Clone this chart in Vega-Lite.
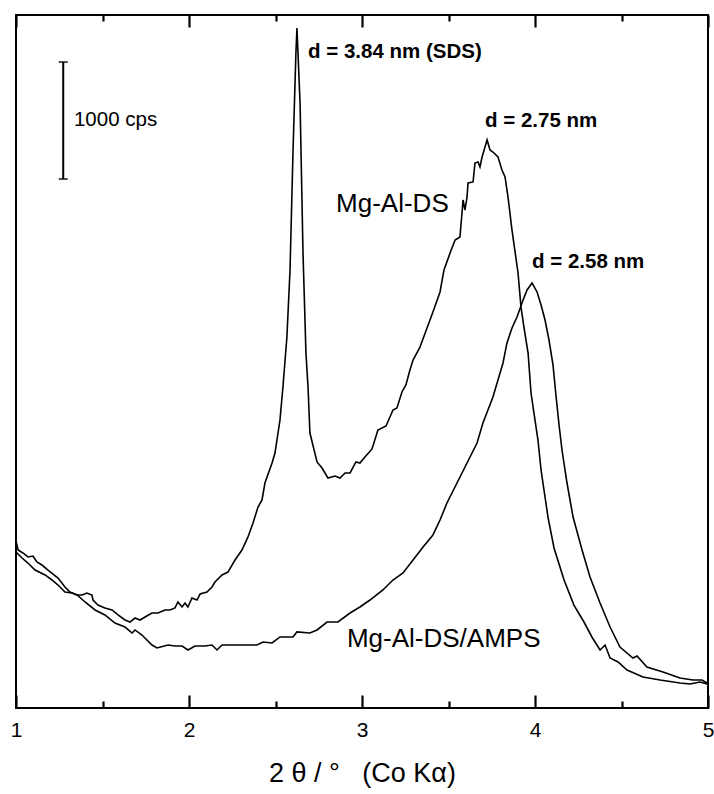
{
  "$schema": "https://vega.github.io/schema/vega-lite/v6.json",
  "width": 692,
  "height": 693,
  "autosize": "none",
  "padding": {"left": 16, "top": 15, "right": 6, "bottom": 86},
  "background": "white",
  "config": {
    "view": {"stroke": "black", "strokeWidth": 2},
    "font": "Liberation Sans"
  },
  "datasets": {
    "xrd": [
      {"sample": "Mg-Al-DS/AMPS", "two_theta": 1.000, "intensity": 1427},
      {"sample": "Mg-Al-DS/AMPS", "two_theta": 1.012, "intensity": 1350},
      {"sample": "Mg-Al-DS/AMPS", "two_theta": 1.040, "intensity": 1325},
      {"sample": "Mg-Al-DS/AMPS", "two_theta": 1.069, "intensity": 1291},
      {"sample": "Mg-Al-DS/AMPS", "two_theta": 1.098, "intensity": 1299},
      {"sample": "Mg-Al-DS/AMPS", "two_theta": 1.121, "intensity": 1248},
      {"sample": "Mg-Al-DS/AMPS", "two_theta": 1.150, "intensity": 1222},
      {"sample": "Mg-Al-DS/AMPS", "two_theta": 1.185, "intensity": 1179},
      {"sample": "Mg-Al-DS/AMPS", "two_theta": 1.243, "intensity": 1111},
      {"sample": "Mg-Al-DS/AMPS", "two_theta": 1.283, "intensity": 1034},
      {"sample": "Mg-Al-DS/AMPS", "two_theta": 1.312, "intensity": 991},
      {"sample": "Mg-Al-DS/AMPS", "two_theta": 1.353, "intensity": 966},
      {"sample": "Mg-Al-DS/AMPS", "two_theta": 1.399, "intensity": 906},
      {"sample": "Mg-Al-DS/AMPS", "two_theta": 1.457, "intensity": 838},
      {"sample": "Mg-Al-DS/AMPS", "two_theta": 1.514, "intensity": 795},
      {"sample": "Mg-Al-DS/AMPS", "two_theta": 1.572, "intensity": 726},
      {"sample": "Mg-Al-DS/AMPS", "two_theta": 1.630, "intensity": 692},
      {"sample": "Mg-Al-DS/AMPS", "two_theta": 1.671, "intensity": 641},
      {"sample": "Mg-Al-DS/AMPS", "two_theta": 1.688, "intensity": 667},
      {"sample": "Mg-Al-DS/AMPS", "two_theta": 1.728, "intensity": 624},
      {"sample": "Mg-Al-DS/AMPS", "two_theta": 1.786, "intensity": 538},
      {"sample": "Mg-Al-DS/AMPS", "two_theta": 1.815, "intensity": 513},
      {"sample": "Mg-Al-DS/AMPS", "two_theta": 1.879, "intensity": 538},
      {"sample": "Mg-Al-DS/AMPS", "two_theta": 1.919, "intensity": 530},
      {"sample": "Mg-Al-DS/AMPS", "two_theta": 1.960, "intensity": 530},
      {"sample": "Mg-Al-DS/AMPS", "two_theta": 1.994, "intensity": 496},
      {"sample": "Mg-Al-DS/AMPS", "two_theta": 2.035, "intensity": 530},
      {"sample": "Mg-Al-DS/AMPS", "two_theta": 2.092, "intensity": 530},
      {"sample": "Mg-Al-DS/AMPS", "two_theta": 2.133, "intensity": 538},
      {"sample": "Mg-Al-DS/AMPS", "two_theta": 2.162, "intensity": 496},
      {"sample": "Mg-Al-DS/AMPS", "two_theta": 2.191, "intensity": 538},
      {"sample": "Mg-Al-DS/AMPS", "two_theta": 2.266, "intensity": 538},
      {"sample": "Mg-Al-DS/AMPS", "two_theta": 2.324, "intensity": 538},
      {"sample": "Mg-Al-DS/AMPS", "two_theta": 2.393, "intensity": 538},
      {"sample": "Mg-Al-DS/AMPS", "two_theta": 2.428, "intensity": 564},
      {"sample": "Mg-Al-DS/AMPS", "two_theta": 2.480, "intensity": 556},
      {"sample": "Mg-Al-DS/AMPS", "two_theta": 2.526, "intensity": 607},
      {"sample": "Mg-Al-DS/AMPS", "two_theta": 2.601, "intensity": 607},
      {"sample": "Mg-Al-DS/AMPS", "two_theta": 2.624, "intensity": 650},
      {"sample": "Mg-Al-DS/AMPS", "two_theta": 2.699, "intensity": 641},
      {"sample": "Mg-Al-DS/AMPS", "two_theta": 2.740, "intensity": 667},
      {"sample": "Mg-Al-DS/AMPS", "two_theta": 2.798, "intensity": 735},
      {"sample": "Mg-Al-DS/AMPS", "two_theta": 2.861, "intensity": 735},
      {"sample": "Mg-Al-DS/AMPS", "two_theta": 2.931, "intensity": 812},
      {"sample": "Mg-Al-DS/AMPS", "two_theta": 2.988, "intensity": 863},
      {"sample": "Mg-Al-DS/AMPS", "two_theta": 3.046, "intensity": 923},
      {"sample": "Mg-Al-DS/AMPS", "two_theta": 3.121, "intensity": 1009},
      {"sample": "Mg-Al-DS/AMPS", "two_theta": 3.179, "intensity": 1094},
      {"sample": "Mg-Al-DS/AMPS", "two_theta": 3.237, "intensity": 1154},
      {"sample": "Mg-Al-DS/AMPS", "two_theta": 3.295, "intensity": 1265},
      {"sample": "Mg-Al-DS/AMPS", "two_theta": 3.353, "intensity": 1376},
      {"sample": "Mg-Al-DS/AMPS", "two_theta": 3.410, "intensity": 1479},
      {"sample": "Mg-Al-DS/AMPS", "two_theta": 3.451, "intensity": 1607},
      {"sample": "Mg-Al-DS/AMPS", "two_theta": 3.491, "intensity": 1752},
      {"sample": "Mg-Al-DS/AMPS", "two_theta": 3.549, "intensity": 1923},
      {"sample": "Mg-Al-DS/AMPS", "two_theta": 3.607, "intensity": 2094},
      {"sample": "Mg-Al-DS/AMPS", "two_theta": 3.665, "intensity": 2265},
      {"sample": "Mg-Al-DS/AMPS", "two_theta": 3.699, "intensity": 2436},
      {"sample": "Mg-Al-DS/AMPS", "two_theta": 3.757, "intensity": 2658},
      {"sample": "Mg-Al-DS/AMPS", "two_theta": 3.815, "intensity": 2949},
      {"sample": "Mg-Al-DS/AMPS", "two_theta": 3.838, "intensity": 3120},
      {"sample": "Mg-Al-DS/AMPS", "two_theta": 3.867, "intensity": 3248},
      {"sample": "Mg-Al-DS/AMPS", "two_theta": 3.896, "intensity": 3342},
      {"sample": "Mg-Al-DS/AMPS", "two_theta": 3.931, "intensity": 3487},
      {"sample": "Mg-Al-DS/AMPS", "two_theta": 3.954, "intensity": 3573},
      {"sample": "Mg-Al-DS/AMPS", "two_theta": 3.983, "intensity": 3632},
      {"sample": "Mg-Al-DS/AMPS", "two_theta": 4.012, "intensity": 3556},
      {"sample": "Mg-Al-DS/AMPS", "two_theta": 4.035, "intensity": 3444},
      {"sample": "Mg-Al-DS/AMPS", "two_theta": 4.058, "intensity": 3316},
      {"sample": "Mg-Al-DS/AMPS", "two_theta": 4.081, "intensity": 3145},
      {"sample": "Mg-Al-DS/AMPS", "two_theta": 4.104, "intensity": 2932},
      {"sample": "Mg-Al-DS/AMPS", "two_theta": 4.121, "intensity": 2675},
      {"sample": "Mg-Al-DS/AMPS", "two_theta": 4.139, "intensity": 2419},
      {"sample": "Mg-Al-DS/AMPS", "two_theta": 4.156, "intensity": 2205},
      {"sample": "Mg-Al-DS/AMPS", "two_theta": 4.185, "intensity": 1923},
      {"sample": "Mg-Al-DS/AMPS", "two_theta": 4.220, "intensity": 1632},
      {"sample": "Mg-Al-DS/AMPS", "two_theta": 4.272, "intensity": 1350},
      {"sample": "Mg-Al-DS/AMPS", "two_theta": 4.318, "intensity": 1120},
      {"sample": "Mg-Al-DS/AMPS", "two_theta": 4.376, "intensity": 897},
      {"sample": "Mg-Al-DS/AMPS", "two_theta": 4.434, "intensity": 692},
      {"sample": "Mg-Al-DS/AMPS", "two_theta": 4.491, "intensity": 521},
      {"sample": "Mg-Al-DS/AMPS", "two_theta": 4.566, "intensity": 427},
      {"sample": "Mg-Al-DS/AMPS", "two_theta": 4.590, "intensity": 445},
      {"sample": "Mg-Al-DS/AMPS", "two_theta": 4.647, "intensity": 350},
      {"sample": "Mg-Al-DS/AMPS", "two_theta": 4.740, "intensity": 308},
      {"sample": "Mg-Al-DS/AMPS", "two_theta": 4.838, "intensity": 256},
      {"sample": "Mg-Al-DS/AMPS", "two_theta": 4.913, "intensity": 239},
      {"sample": "Mg-Al-DS/AMPS", "two_theta": 4.965, "intensity": 239},
      {"sample": "Mg-Al-DS/AMPS", "two_theta": 4.994, "intensity": 214},
      {"sample": "Mg-Al-DS", "two_theta": 1.000, "intensity": 1333},
      {"sample": "Mg-Al-DS", "two_theta": 1.035, "intensity": 1282},
      {"sample": "Mg-Al-DS", "two_theta": 1.069, "intensity": 1239},
      {"sample": "Mg-Al-DS", "two_theta": 1.110, "intensity": 1179},
      {"sample": "Mg-Al-DS", "two_theta": 1.168, "intensity": 1137},
      {"sample": "Mg-Al-DS", "two_theta": 1.208, "intensity": 1094},
      {"sample": "Mg-Al-DS", "two_theta": 1.243, "intensity": 1051},
      {"sample": "Mg-Al-DS", "two_theta": 1.283, "intensity": 991},
      {"sample": "Mg-Al-DS", "two_theta": 1.324, "intensity": 983},
      {"sample": "Mg-Al-DS", "two_theta": 1.353, "intensity": 966},
      {"sample": "Mg-Al-DS", "two_theta": 1.382, "intensity": 966},
      {"sample": "Mg-Al-DS", "two_theta": 1.410, "intensity": 983},
      {"sample": "Mg-Al-DS", "two_theta": 1.439, "intensity": 966},
      {"sample": "Mg-Al-DS", "two_theta": 1.445, "intensity": 923},
      {"sample": "Mg-Al-DS", "two_theta": 1.474, "intensity": 880},
      {"sample": "Mg-Al-DS", "two_theta": 1.514, "intensity": 855},
      {"sample": "Mg-Al-DS", "two_theta": 1.555, "intensity": 838},
      {"sample": "Mg-Al-DS", "two_theta": 1.590, "intensity": 795},
      {"sample": "Mg-Al-DS", "two_theta": 1.630, "intensity": 752},
      {"sample": "Mg-Al-DS", "two_theta": 1.659, "intensity": 735},
      {"sample": "Mg-Al-DS", "two_theta": 1.688, "intensity": 769},
      {"sample": "Mg-Al-DS", "two_theta": 1.717, "intensity": 752},
      {"sample": "Mg-Al-DS", "two_theta": 1.746, "intensity": 778},
      {"sample": "Mg-Al-DS", "two_theta": 1.786, "intensity": 812},
      {"sample": "Mg-Al-DS", "two_theta": 1.821, "intensity": 812},
      {"sample": "Mg-Al-DS", "two_theta": 1.861, "intensity": 838},
      {"sample": "Mg-Al-DS", "two_theta": 1.890, "intensity": 838},
      {"sample": "Mg-Al-DS", "two_theta": 1.919, "intensity": 855},
      {"sample": "Mg-Al-DS", "two_theta": 1.936, "intensity": 906},
      {"sample": "Mg-Al-DS", "two_theta": 1.960, "intensity": 863},
      {"sample": "Mg-Al-DS", "two_theta": 1.977, "intensity": 897},
      {"sample": "Mg-Al-DS", "two_theta": 1.994, "intensity": 863},
      {"sample": "Mg-Al-DS", "two_theta": 2.017, "intensity": 940},
      {"sample": "Mg-Al-DS", "two_theta": 2.046, "intensity": 923},
      {"sample": "Mg-Al-DS", "two_theta": 2.064, "intensity": 974},
      {"sample": "Mg-Al-DS", "two_theta": 2.104, "intensity": 991},
      {"sample": "Mg-Al-DS", "two_theta": 2.133, "intensity": 1034},
      {"sample": "Mg-Al-DS", "two_theta": 2.150, "intensity": 1077},
      {"sample": "Mg-Al-DS", "two_theta": 2.191, "intensity": 1137},
      {"sample": "Mg-Al-DS", "two_theta": 2.225, "intensity": 1162},
      {"sample": "Mg-Al-DS", "two_theta": 2.266, "intensity": 1265},
      {"sample": "Mg-Al-DS", "two_theta": 2.306, "intensity": 1350},
      {"sample": "Mg-Al-DS", "two_theta": 2.341, "intensity": 1462},
      {"sample": "Mg-Al-DS", "two_theta": 2.370, "intensity": 1581},
      {"sample": "Mg-Al-DS", "two_theta": 2.399, "intensity": 1718},
      {"sample": "Mg-Al-DS", "two_theta": 2.422, "intensity": 1778},
      {"sample": "Mg-Al-DS", "two_theta": 2.439, "intensity": 1923},
      {"sample": "Mg-Al-DS", "two_theta": 2.480, "intensity": 2094},
      {"sample": "Mg-Al-DS", "two_theta": 2.497, "intensity": 2179},
      {"sample": "Mg-Al-DS", "two_theta": 2.526, "intensity": 2462},
      {"sample": "Mg-Al-DS", "two_theta": 2.543, "intensity": 2744},
      {"sample": "Mg-Al-DS", "two_theta": 2.566, "intensity": 3171},
      {"sample": "Mg-Al-DS", "two_theta": 2.584, "intensity": 3744},
      {"sample": "Mg-Al-DS", "two_theta": 2.601, "intensity": 4744},
      {"sample": "Mg-Al-DS", "two_theta": 2.618, "intensity": 5598},
      {"sample": "Mg-Al-DS", "two_theta": 2.624, "intensity": 5812},
      {"sample": "Mg-Al-DS", "two_theta": 2.642, "intensity": 5171},
      {"sample": "Mg-Al-DS", "two_theta": 2.659, "intensity": 3889},
      {"sample": "Mg-Al-DS", "two_theta": 2.676, "intensity": 3034},
      {"sample": "Mg-Al-DS", "two_theta": 2.688, "intensity": 2744},
      {"sample": "Mg-Al-DS", "two_theta": 2.699, "intensity": 2350},
      {"sample": "Mg-Al-DS", "two_theta": 2.740, "intensity": 2103},
      {"sample": "Mg-Al-DS", "two_theta": 2.769, "intensity": 2051},
      {"sample": "Mg-Al-DS", "two_theta": 2.803, "intensity": 1966},
      {"sample": "Mg-Al-DS", "two_theta": 2.844, "intensity": 1983},
      {"sample": "Mg-Al-DS", "two_theta": 2.873, "intensity": 1966},
      {"sample": "Mg-Al-DS", "two_theta": 2.902, "intensity": 2009},
      {"sample": "Mg-Al-DS", "two_theta": 2.931, "intensity": 2009},
      {"sample": "Mg-Al-DS", "two_theta": 2.965, "intensity": 2103},
      {"sample": "Mg-Al-DS", "two_theta": 2.988, "intensity": 2094},
      {"sample": "Mg-Al-DS", "two_theta": 3.017, "intensity": 2145},
      {"sample": "Mg-Al-DS", "two_theta": 3.058, "intensity": 2214},
      {"sample": "Mg-Al-DS", "two_theta": 3.092, "intensity": 2376},
      {"sample": "Mg-Al-DS", "two_theta": 3.139, "intensity": 2410},
      {"sample": "Mg-Al-DS", "two_theta": 3.179, "intensity": 2547},
      {"sample": "Mg-Al-DS", "two_theta": 3.202, "intensity": 2564},
      {"sample": "Mg-Al-DS", "two_theta": 3.231, "intensity": 2701},
      {"sample": "Mg-Al-DS", "two_theta": 3.254, "intensity": 2761},
      {"sample": "Mg-Al-DS", "two_theta": 3.277, "intensity": 2889},
      {"sample": "Mg-Al-DS", "two_theta": 3.295, "intensity": 2974},
      {"sample": "Mg-Al-DS", "two_theta": 3.335, "intensity": 3085},
      {"sample": "Mg-Al-DS", "two_theta": 3.376, "intensity": 3248},
      {"sample": "Mg-Al-DS", "two_theta": 3.410, "intensity": 3385},
      {"sample": "Mg-Al-DS", "two_theta": 3.451, "intensity": 3556},
      {"sample": "Mg-Al-DS", "two_theta": 3.474, "intensity": 3744},
      {"sample": "Mg-Al-DS", "two_theta": 3.509, "intensity": 3889},
      {"sample": "Mg-Al-DS", "two_theta": 3.538, "intensity": 4000},
      {"sample": "Mg-Al-DS", "two_theta": 3.566, "intensity": 4026},
      {"sample": "Mg-Al-DS", "two_theta": 3.578, "intensity": 4231},
      {"sample": "Mg-Al-DS", "two_theta": 3.584, "intensity": 4342},
      {"sample": "Mg-Al-DS", "two_theta": 3.595, "intensity": 4256},
      {"sample": "Mg-Al-DS", "two_theta": 3.607, "intensity": 4367},
      {"sample": "Mg-Al-DS", "two_theta": 3.613, "intensity": 4487},
      {"sample": "Mg-Al-DS", "two_theta": 3.642, "intensity": 4496},
      {"sample": "Mg-Al-DS", "two_theta": 3.653, "intensity": 4658},
      {"sample": "Mg-Al-DS", "two_theta": 3.671, "intensity": 4667},
      {"sample": "Mg-Al-DS", "two_theta": 3.682, "intensity": 4624},
      {"sample": "Mg-Al-DS", "two_theta": 3.694, "intensity": 4709},
      {"sample": "Mg-Al-DS", "two_theta": 3.711, "intensity": 4795},
      {"sample": "Mg-Al-DS", "two_theta": 3.723, "intensity": 4855},
      {"sample": "Mg-Al-DS", "two_theta": 3.740, "intensity": 4769},
      {"sample": "Mg-Al-DS", "two_theta": 3.757, "intensity": 4752},
      {"sample": "Mg-Al-DS", "two_theta": 3.786, "intensity": 4709},
      {"sample": "Mg-Al-DS", "two_theta": 3.809, "intensity": 4598},
      {"sample": "Mg-Al-DS", "two_theta": 3.827, "intensity": 4538},
      {"sample": "Mg-Al-DS", "two_theta": 3.844, "intensity": 4367},
      {"sample": "Mg-Al-DS", "two_theta": 3.867, "intensity": 4085},
      {"sample": "Mg-Al-DS", "two_theta": 3.902, "intensity": 3718},
      {"sample": "Mg-Al-DS", "two_theta": 3.919, "intensity": 3427},
      {"sample": "Mg-Al-DS", "two_theta": 3.936, "intensity": 3256},
      {"sample": "Mg-Al-DS", "two_theta": 3.960, "intensity": 3034},
      {"sample": "Mg-Al-DS", "two_theta": 3.977, "intensity": 2692},
      {"sample": "Mg-Al-DS", "two_theta": 3.994, "intensity": 2521},
      {"sample": "Mg-Al-DS", "two_theta": 4.017, "intensity": 2291},
      {"sample": "Mg-Al-DS", "two_theta": 4.035, "intensity": 2034},
      {"sample": "Mg-Al-DS", "two_theta": 4.052, "intensity": 1863},
      {"sample": "Mg-Al-DS", "two_theta": 4.075, "intensity": 1632},
      {"sample": "Mg-Al-DS", "two_theta": 4.110, "intensity": 1368},
      {"sample": "Mg-Al-DS", "two_theta": 4.168, "intensity": 1094},
      {"sample": "Mg-Al-DS", "two_theta": 4.225, "intensity": 880},
      {"sample": "Mg-Al-DS", "two_theta": 4.283, "intensity": 735},
      {"sample": "Mg-Al-DS", "two_theta": 4.329, "intensity": 607},
      {"sample": "Mg-Al-DS", "two_theta": 4.376, "intensity": 496},
      {"sample": "Mg-Al-DS", "two_theta": 4.405, "intensity": 538},
      {"sample": "Mg-Al-DS", "two_theta": 4.434, "intensity": 427},
      {"sample": "Mg-Al-DS", "two_theta": 4.480, "intensity": 393},
      {"sample": "Mg-Al-DS", "two_theta": 4.532, "intensity": 325},
      {"sample": "Mg-Al-DS", "two_theta": 4.624, "intensity": 265},
      {"sample": "Mg-Al-DS", "two_theta": 4.723, "intensity": 239},
      {"sample": "Mg-Al-DS", "two_theta": 4.838, "intensity": 214},
      {"sample": "Mg-Al-DS", "two_theta": 4.896, "intensity": 205},
      {"sample": "Mg-Al-DS", "two_theta": 4.954, "intensity": 222},
      {"sample": "Mg-Al-DS", "two_theta": 4.994, "intensity": 205}
    ],
    "peaks": [
      {"two_theta": 2.688, "intensity": 5556, "text": "d = 3.84 nm (SDS)"},
      {"two_theta": 3.711, "intensity": 4966, "text": "d = 2.75 nm"},
      {"two_theta": 3.983, "intensity": 3761, "text": "d = 2.58 nm"}
    ],
    "samples": [
      {"two_theta": 2.850, "intensity": 4239, "text": "Mg-Al-DS"},
      {"two_theta": 2.913, "intensity": 521, "text": "Mg-Al-DS/AMPS"}
    ],
    "scalebar": [
      {"two_theta": 1.273, "low": 4521, "high": 5521}
    ],
    "scaleends": [
      {"two_theta": 1.273, "intensity": 4521},
      {"two_theta": 1.273, "intensity": 5521}
    ],
    "scalelabel": [
      {"two_theta": 1.335, "intensity": 4974, "text": "1000 cps"}
    ]
  },
  "layer": [
    {
      "data": {"name": "xrd"},
      "mark": {"type": "line", "color": "black", "strokeWidth": 1.6},
      "encoding": {
        "x": {
          "field": "two_theta", "type": "quantitative",
          "scale": {"domain": [1, 5], "nice": false, "zero": false},
          "axis": {
            "orient": "bottom",
            "values": [1, 2, 3, 4, 5],
            "format": "d",
            "domain": false,
            "ticks": false,
            "grid": true,
            "gridColor": "black",
            "gridOpacity": 1,
            "gridWidth": 2.2,
            "gridDash": [12, 668, 13],
            "labelFont": "Liberation Sans",
            "labelFontSize": 21,
            "labelColor": "black",
            "labelPadding": 11,
            "labelFlush": false,
            "labelOverlap": false,
            "title": "2 θ / °\u00a0\u00a0\u00a0(Co Kα)",
            "titleFont": "Liberation Sans",
            "titleFontSize": 27,
            "titleFontWeight": "normal",
            "titleColor": "black",
            "titlePadding": 20
          }
        },
        "y": {
          "field": "intensity", "type": "quantitative",
          "scale": {"domain": [0, 5923], "nice": false, "zero": false},
          "axis": null
        },
        "detail": {"field": "sample", "type": "nominal"}
      }
    },
    {
      "data": {"name": "scalebar"},
      "mark": {"type": "rule", "color": "black", "strokeWidth": 2},
      "encoding": {
        "x": {
          "field": "two_theta", "type": "quantitative",
          "axis": {
            "orient": "bottom",
            "values": [1.5, 2.5, 3.5, 4.5],
            "domain": false,
            "ticks": false,
            "labels": false,
            "title": null,
            "grid": true,
            "gridColor": "black",
            "gridOpacity": 1,
            "gridWidth": 2.2,
            "gridDash": [6, 680, 7]
          }
        },
        "y": {"field": "low", "type": "quantitative", "axis": null},
        "y2": {"field": "high"}
      }
    },
    {
      "data": {"name": "scaleends"},
      "mark": {"type": "tick", "orient": "horizontal", "color": "black", "size": 9, "thickness": 2},
      "encoding": {
        "x": {"field": "two_theta", "type": "quantitative", "axis": null},
        "y": {"field": "intensity", "type": "quantitative", "axis": null}
      }
    },
    {
      "data": {"name": "scalelabel"},
      "mark": {"type": "text", "align": "left", "baseline": "alphabetic", "font": "Liberation Sans", "fontSize": 20.5, "color": "black"},
      "encoding": {
        "x": {"field": "two_theta", "type": "quantitative", "axis": null},
        "y": {"field": "intensity", "type": "quantitative", "axis": null},
        "text": {"field": "text"}
      }
    },
    {
      "data": {"name": "peaks"},
      "mark": {"type": "text", "align": "left", "baseline": "alphabetic", "font": "Liberation Sans", "fontSize": 20.5, "fontWeight": "bold", "color": "black"},
      "encoding": {
        "x": {"field": "two_theta", "type": "quantitative", "axis": null},
        "y": {"field": "intensity", "type": "quantitative", "axis": null},
        "text": {"field": "text"}
      }
    },
    {
      "data": {"name": "samples"},
      "mark": {"type": "text", "align": "left", "baseline": "alphabetic", "font": "Liberation Sans", "fontSize": 26, "color": "black"},
      "encoding": {
        "x": {"field": "two_theta", "type": "quantitative", "axis": null},
        "y": {"field": "intensity", "type": "quantitative", "axis": null},
        "text": {"field": "text"}
      }
    }
  ],
  "resolve": {"axis": {"x": "independent", "y": "independent"}}
}
